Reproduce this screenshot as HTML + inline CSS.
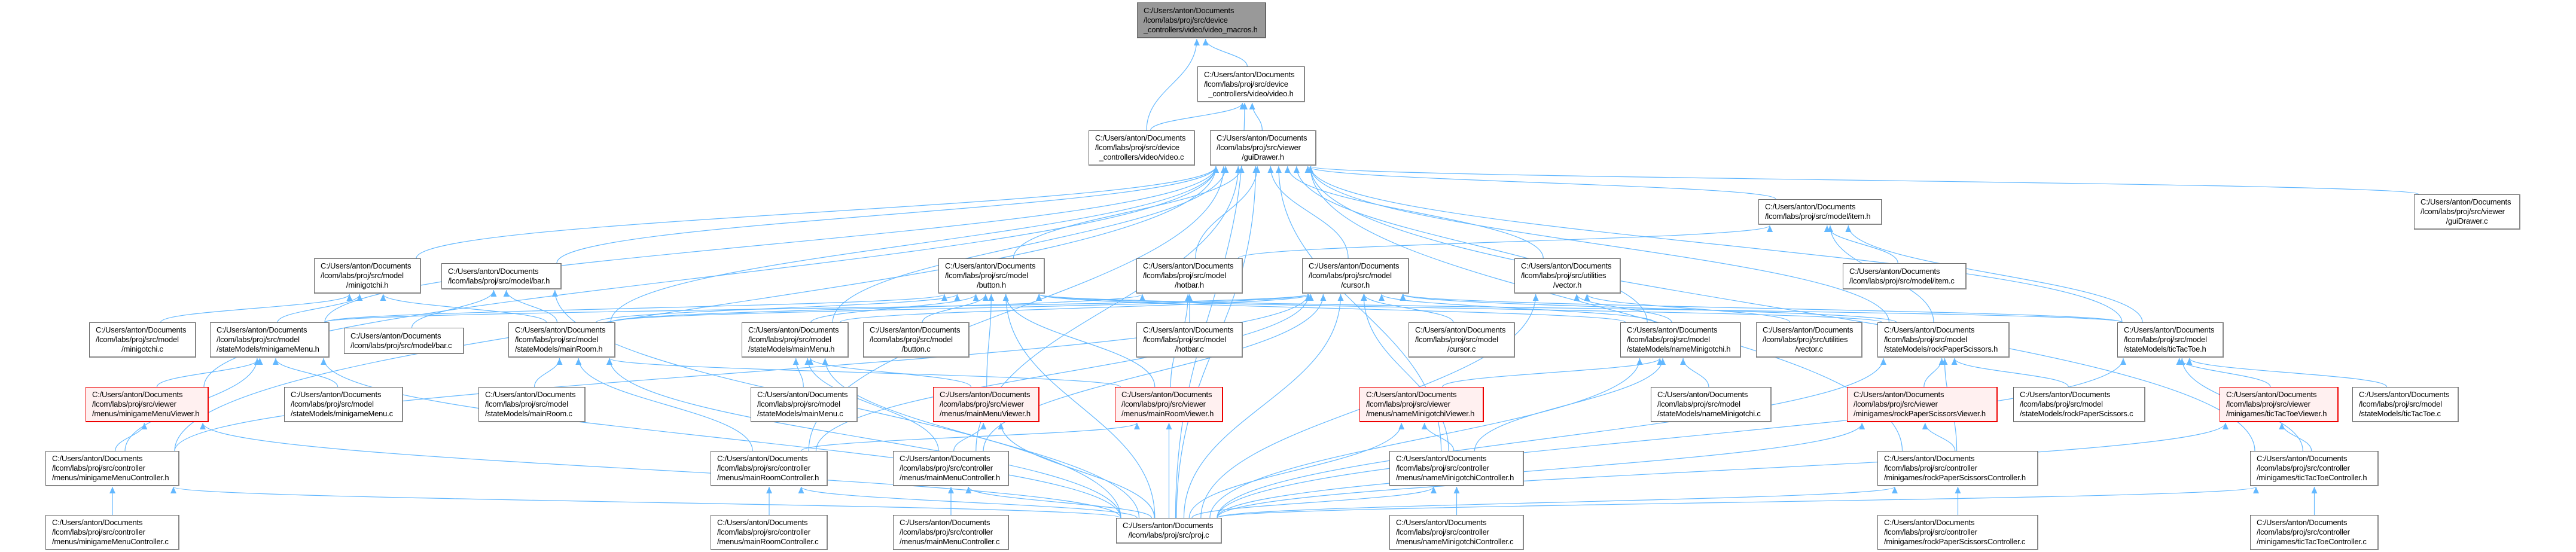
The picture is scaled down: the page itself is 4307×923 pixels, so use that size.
<!DOCTYPE html>
<html><head><meta charset="utf-8"><style>
html,body{margin:0;padding:0;background:#fff;}
#wrap{position:relative;width:4307px;height:923px;overflow:hidden;background:#fff;}
svg{position:absolute;left:0;top:0;}
.n{position:absolute;box-sizing:border-box;border:1px solid #666;border-bottom:2px solid #888;border-right:2px solid #888;background:#fff;font-family:"Liberation Sans",Arial,sans-serif;font-size:13px;line-height:16px;color:#000;text-align:left;padding-left:10px;display:flex;flex-direction:column;justify-content:center;white-space:nowrap;letter-spacing:-0.2px;}
.n span{display:block;}
.n span.c{text-align:center;margin-left:-10px;}
.g{background:#999;border-color:#666;}
.r{background:#fff0f0;border:1px solid #e00;border-bottom:2px solid #e00;border-right:2px solid #e00;}
</style></head><body><div id="wrap">
<svg id="edges" width="4307" height="923" xmlns="http://www.w3.org/2000/svg">
<defs><marker id="ah" markerUnits="userSpaceOnUse" markerWidth="12" markerHeight="10" refX="11" refY="5" orient="auto"><path d="M0,0 L11,5 L0,10 z" fill="#63b8ff"/></marker></defs>
<g id="eg" fill="none" stroke="#63b8ff" stroke-width="1.2"></g>
</svg>
<div class="n g" style="left:1901px;top:4px;width:216px;height:60px"><span>C:/Users/anton/Documents</span><span>/lcom/labs/proj/src/device</span><span>_controllers/video/video_macros.h</span></div>
<div class="n" style="left:2002px;top:111px;width:180px;height:60px"><span>C:/Users/anton/Documents</span><span>/lcom/labs/proj/src/device</span><span class="c">_controllers/video/video.h</span></div>
<div class="n" style="left:1820px;top:218px;width:178px;height:59px"><span>C:/Users/anton/Documents</span><span>/lcom/labs/proj/src/device</span><span class="c">_controllers/video/video.c</span></div>
<div class="n" style="left:2023px;top:218px;width:178px;height:59px"><span>C:/Users/anton/Documents</span><span>/lcom/labs/proj/src/viewer</span><span class="c">/guiDrawer.h</span></div>
<div class="n" style="left:2940px;top:333px;width:207px;height:43px"><span>C:/Users/anton/Documents</span><span>/lcom/labs/proj/src/model/item.h</span></div>
<div class="n" style="left:4036px;top:325px;width:178px;height:59px"><span>C:/Users/anton/Documents</span><span>/lcom/labs/proj/src/viewer</span><span class="c">/guiDrawer.c</span></div>
<div class="n" style="left:525px;top:432px;width:179px;height:59px"><span>C:/Users/anton/Documents</span><span>/lcom/labs/proj/src/model</span><span class="c">/minigotchi.h</span></div>
<div class="n" style="left:738px;top:440px;width:201px;height:44px"><span>C:/Users/anton/Documents</span><span>/lcom/labs/proj/src/model/bar.h</span></div>
<div class="n" style="left:1569px;top:432px;width:178px;height:59px"><span>C:/Users/anton/Documents</span><span>/lcom/labs/proj/src/model</span><span class="c">/button.h</span></div>
<div class="n" style="left:1900px;top:432px;width:178px;height:59px"><span>C:/Users/anton/Documents</span><span>/lcom/labs/proj/src/model</span><span class="c">/hotbar.h</span></div>
<div class="n" style="left:2177px;top:432px;width:179px;height:59px"><span>C:/Users/anton/Documents</span><span>/lcom/labs/proj/src/model</span><span class="c">/cursor.h</span></div>
<div class="n" style="left:2532px;top:432px;width:178px;height:59px"><span>C:/Users/anton/Documents</span><span>/lcom/labs/proj/src/utilities</span><span class="c">/vector.h</span></div>
<div class="n" style="left:3081px;top:440px;width:207px;height:44px"><span>C:/Users/anton/Documents</span><span>/lcom/labs/proj/src/model/item.c</span></div>
<div class="n" style="left:149px;top:539px;width:179px;height:59px"><span>C:/Users/anton/Documents</span><span>/lcom/labs/proj/src/model</span><span class="c">/minigotchi.c</span></div>
<div class="n" style="left:351px;top:539px;width:200px;height:59px"><span>C:/Users/anton/Documents</span><span>/lcom/labs/proj/src/model</span><span>/stateModels/minigameMenu.h</span></div>
<div class="n" style="left:575px;top:548px;width:201px;height:44px"><span>C:/Users/anton/Documents</span><span>/lcom/labs/proj/src/model/bar.c</span></div>
<div class="n" style="left:850px;top:539px;width:179px;height:59px"><span>C:/Users/anton/Documents</span><span>/lcom/labs/proj/src/model</span><span>/stateModels/mainRoom.h</span></div>
<div class="n" style="left:1240px;top:539px;width:179px;height:59px"><span>C:/Users/anton/Documents</span><span>/lcom/labs/proj/src/model</span><span>/stateModels/mainMenu.h</span></div>
<div class="n" style="left:1443px;top:539px;width:178px;height:59px"><span>C:/Users/anton/Documents</span><span>/lcom/labs/proj/src/model</span><span class="c">/button.c</span></div>
<div class="n" style="left:1900px;top:539px;width:178px;height:59px"><span>C:/Users/anton/Documents</span><span>/lcom/labs/proj/src/model</span><span class="c">/hotbar.c</span></div>
<div class="n" style="left:2355px;top:539px;width:178px;height:59px"><span>C:/Users/anton/Documents</span><span>/lcom/labs/proj/src/model</span><span class="c">/cursor.c</span></div>
<div class="n" style="left:2709px;top:539px;width:202px;height:59px"><span>C:/Users/anton/Documents</span><span>/lcom/labs/proj/src/model</span><span>/stateModels/nameMinigotchi.h</span></div>
<div class="n" style="left:2936px;top:539px;width:178px;height:59px"><span>C:/Users/anton/Documents</span><span>/lcom/labs/proj/src/utilities</span><span class="c">/vector.c</span></div>
<div class="n" style="left:3139px;top:539px;width:221px;height:59px"><span>C:/Users/anton/Documents</span><span>/lcom/labs/proj/src/model</span><span>/stateModels/rockPaperScissors.h</span></div>
<div class="n" style="left:3540px;top:539px;width:178px;height:59px"><span>C:/Users/anton/Documents</span><span>/lcom/labs/proj/src/model</span><span>/stateModels/ticTacToe.h</span></div>
<div class="n r" style="left:143px;top:647px;width:206px;height:59px"><span>C:/Users/anton/Documents</span><span>/lcom/labs/proj/src/viewer</span><span>/menus/minigameMenuViewer.h</span></div>
<div class="n" style="left:475px;top:647px;width:199px;height:59px"><span>C:/Users/anton/Documents</span><span>/lcom/labs/proj/src/model</span><span>/stateModels/minigameMenu.c</span></div>
<div class="n" style="left:800px;top:647px;width:179px;height:59px"><span>C:/Users/anton/Documents</span><span>/lcom/labs/proj/src/model</span><span>/stateModels/mainRoom.c</span></div>
<div class="n" style="left:1255px;top:647px;width:179px;height:59px"><span>C:/Users/anton/Documents</span><span>/lcom/labs/proj/src/model</span><span>/stateModels/mainMenu.c</span></div>
<div class="n r" style="left:1560px;top:647px;width:178px;height:59px"><span>C:/Users/anton/Documents</span><span>/lcom/labs/proj/src/viewer</span><span>/menus/mainMenuViewer.h</span></div>
<div class="n r" style="left:1864px;top:647px;width:181px;height:59px"><span>C:/Users/anton/Documents</span><span>/lcom/labs/proj/src/viewer</span><span>/menus/mainRoomViewer.h</span></div>
<div class="n r" style="left:2273px;top:647px;width:208px;height:59px"><span>C:/Users/anton/Documents</span><span>/lcom/labs/proj/src/viewer</span><span>/menus/nameMinigotchiViewer.h</span></div>
<div class="n" style="left:2760px;top:647px;width:202px;height:59px"><span>C:/Users/anton/Documents</span><span>/lcom/labs/proj/src/model</span><span>/stateModels/nameMinigotchi.c</span></div>
<div class="n r" style="left:3088px;top:647px;width:252px;height:59px"><span>C:/Users/anton/Documents</span><span>/lcom/labs/proj/src/viewer</span><span>/minigames/rockPaperScissorsViewer.h</span></div>
<div class="n" style="left:3366px;top:647px;width:221px;height:59px"><span>C:/Users/anton/Documents</span><span>/lcom/labs/proj/src/model</span><span>/stateModels/rockPaperScissors.c</span></div>
<div class="n r" style="left:3711px;top:647px;width:199px;height:59px"><span>C:/Users/anton/Documents</span><span>/lcom/labs/proj/src/viewer</span><span>/minigames/ticTacToeViewer.h</span></div>
<div class="n" style="left:3933px;top:647px;width:178px;height:59px"><span>C:/Users/anton/Documents</span><span>/lcom/labs/proj/src/model</span><span>/stateModels/ticTacToe.c</span></div>
<div class="n" style="left:76px;top:754px;width:224px;height:59px"><span>C:/Users/anton/Documents</span><span>/lcom/labs/proj/src/controller</span><span>/menus/minigameMenuController.h</span></div>
<div class="n" style="left:1188px;top:754px;width:196px;height:59px"><span>C:/Users/anton/Documents</span><span>/lcom/labs/proj/src/controller</span><span>/menus/mainRoomController.h</span></div>
<div class="n" style="left:1493px;top:754px;width:194px;height:59px"><span>C:/Users/anton/Documents</span><span>/lcom/labs/proj/src/controller</span><span>/menus/mainMenuController.h</span></div>
<div class="n" style="left:2323px;top:754px;width:225px;height:59px"><span>C:/Users/anton/Documents</span><span>/lcom/labs/proj/src/controller</span><span>/menus/nameMinigotchiController.h</span></div>
<div class="n" style="left:3139px;top:754px;width:269px;height:59px"><span>C:/Users/anton/Documents</span><span>/lcom/labs/proj/src/controller</span><span>/minigames/rockPaperScissorsController.h</span></div>
<div class="n" style="left:3762px;top:754px;width:215px;height:59px"><span>C:/Users/anton/Documents</span><span>/lcom/labs/proj/src/controller</span><span>/minigames/ticTacToeController.h</span></div>
<div class="n" style="left:76px;top:861px;width:224px;height:59px"><span>C:/Users/anton/Documents</span><span>/lcom/labs/proj/src/controller</span><span>/menus/minigameMenuController.c</span></div>
<div class="n" style="left:1188px;top:861px;width:196px;height:59px"><span>C:/Users/anton/Documents</span><span>/lcom/labs/proj/src/controller</span><span>/menus/mainRoomController.c</span></div>
<div class="n" style="left:1493px;top:861px;width:194px;height:59px"><span>C:/Users/anton/Documents</span><span>/lcom/labs/proj/src/controller</span><span>/menus/mainMenuController.c</span></div>
<div class="n" style="left:2323px;top:861px;width:225px;height:59px"><span>C:/Users/anton/Documents</span><span>/lcom/labs/proj/src/controller</span><span>/menus/nameMinigotchiController.c</span></div>
<div class="n" style="left:3139px;top:861px;width:269px;height:59px"><span>C:/Users/anton/Documents</span><span>/lcom/labs/proj/src/controller</span><span>/minigames/rockPaperScissorsController.c</span></div>
<div class="n" style="left:3762px;top:861px;width:215px;height:59px"><span>C:/Users/anton/Documents</span><span>/lcom/labs/proj/src/controller</span><span>/minigames/ticTacToeController.c</span></div>
<div class="n" style="left:1866px;top:866px;width:177px;height:43px"><span>C:/Users/anton/Documents</span><span class="c">/lcom/labs/proj/src/proj.c</span></div>
</div>
<script>
var N={
macros:[1901,4,216,60],videoh:[2002,111,180,60],videoc:[1820,218,178,59],guih:[2023,218,178,59],
itemh:[2940,333,207,43],guic:[4036,325,178,59],minih:[525,432,179,59],barh:[738,440,201,44],
buttonh:[1569,432,178,59],hotbarh:[1900,432,178,59],cursorh:[2177,432,179,59],vectorh:[2532,432,178,59],
itemc:[3081,440,207,44],minic:[149,539,179,59],mmenuh:[351,539,200,59],barc:[575,548,201,44],
mroomh:[850,539,179,59],mainmenuh:[1240,539,179,59],buttonc:[1443,539,178,59],hotbarc:[1900,539,178,59],
cursorc:[2355,539,178,59],namemh:[2709,539,202,59],vectorc:[2936,539,178,59],rpsh:[3139,539,221,59],
ttth:[3540,539,178,59],mmview:[143,647,206,59],mmenuc:[475,647,199,59],mroomc:[800,647,179,59],
mainmenuc:[1255,647,179,59],mmv2:[1560,647,178,59],mrview:[1864,647,181,59],nmview:[2273,647,208,59],
namemc:[2760,647,202,59],rpsview:[3088,647,252,59],rpsc:[3366,647,221,59],tttview:[3711,647,199,59],
tttc:[3933,647,178,59],mmctrlh:[76,754,224,59],mrctrlh:[1188,754,196,59],mmnctrlh:[1493,754,194,59],
nmctrlh:[2323,754,225,59],rpsctrlh:[3139,754,269,59],tttctrlh:[3762,754,215,59],
mmctrlc:[76,861,224,59],mrctrlc:[1188,861,196,59],mmnctrlc:[1493,861,194,59],nmctrlc:[2323,861,225,59],
rpsctrlc:[3139,861,269,59],tttctrlc:[3762,861,215,59],projc:[1866,866,177,43]};
var E=[
['videoh','macros'],['videoc','macros'],['videoc','videoh'],['guih','videoh'],['projc','videoh'],
['minih','guih'],['barh','guih'],['buttonh','guih'],['hotbarh','guih'],['cursorh','guih'],['vectorh','guih'],
['itemh','guih'],['guic','guih'],['mmenuh','guih'],['mroomh','guih'],['mainmenuh','guih'],['namemh','guih'],
['rpsh','guih'],['ttth','guih'],['mmctrlh','guih'],['mrctrlh','guih'],['mmnctrlh','guih'],['nmctrlh','guih'],
['rpsctrlh','guih'],['tttctrlh','guih'],['projc','guih'],['mmview','guih'],
['minic','minih'],['mmenuh','minih'],['mroomh','minih'],
['barc','barh'],['mroomh','barh'],['projc','barh'],
['mmview','mmenuh'],['mmenuc','mmenuh'],['mmctrlh','mmenuh'],['projc','mmenuh'],
['mroomc','mroomh'],['mrview','mroomh'],['mrctrlh','mroomh'],['projc','mroomh'],
['buttonc','buttonh'],['mainmenuh','buttonh'],['mmenuh','buttonh'],['mroomh','buttonh'],['namemh','buttonh'],
['rpsh','buttonh'],['ttth','buttonh'],['mmv2','buttonh'],['mrview','buttonh'],['projc','buttonh'],
['hotbarc','hotbarh'],['mroomh','hotbarh'],['mrview','hotbarh'],
['cursorc','cursorh'],['mainmenuh','cursorh'],['mmenuh','cursorh'],['mroomh','cursorh'],['namemh','cursorh'],
['rpsh','cursorh'],['ttth','cursorh'],['mmctrlh','cursorh'],['mrctrlh','cursorh'],['mmnctrlh','cursorh'],
['nmctrlh','cursorh'],['projc','cursorh'],
['vectorc','vectorh'],['namemh','vectorh'],['projc','vectorh'],
['itemc','itemh'],['hotbarh','itemh'],['rpsh','itemh'],['ttth','itemh'],
['mainmenuc','mainmenuh'],['mmv2','mainmenuh'],['mmnctrlh','mainmenuh'],['projc','mainmenuh'],
['namemc','namemh'],['nmview','namemh'],['nmctrlh','namemh'],['projc','namemh'],
['rpsc','rpsh'],['rpsview','rpsh'],['rpsctrlh','rpsh'],['projc','rpsh'],
['tttc','ttth'],['tttview','ttth'],['tttctrlh','ttth'],['projc','ttth'],
['mmctrlh','mmview'],['projc','mmview'],['mrctrlh','mrview'],['projc','mrview'],['mmnctrlh','mmv2'],['projc','mmv2'],
['nmctrlh','nmview'],['projc','nmview'],['rpsctrlh','rpsview'],['projc','rpsview'],['tttctrlh','tttview'],['projc','tttview'],
['mmctrlc','mmctrlh'],['mrctrlc','mrctrlh'],['mmnctrlc','mmnctrlh'],['nmctrlc','nmctrlh'],['rpsctrlc','rpsctrlh'],['tttctrlc','tttctrlh'],
['projc','mmctrlh'],['projc','mrctrlh'],['projc','mmnctrlh'],['projc','nmctrlh'],['projc','rpsctrlh'],['projc','tttctrlh']
];
var g=document.getElementById('eg'),s='';
function cl(v,a,b){return Math.max(a,Math.min(b,v));}
E.forEach(function(e){
var a=N[e[0]],b=N[e[1]];
var acx=a[0]+a[2]/2,bcx=b[0]+b[2]/2;
var sx,sy,tx,ty,d;
if(a[1]>b[1]+b[3]-2){
 sx=acx+cl((bcx-acx)*0.08,-a[2]/2+8,a[2]/2-8); sy=a[1];
 tx=bcx+cl((acx-bcx)*0.08,-b[2]/2+10,b[2]/2-10); ty=b[1]+b[3]+1;
 var dy=sy-ty;
 d='M'+sx+','+sy+' C'+sx+','+(sy-dy*0.45)+' '+tx+','+(ty+dy*0.45)+' '+tx+','+ty;
}else{
 if(acx<bcx){sx=a[0]+a[2];tx=b[0]-1;}else{sx=a[0];tx=b[0]+b[2]+1;}
 sy=a[1]+a[3]/2;ty=b[1]+b[3]/2;
 d='M'+sx+','+sy+' C'+((sx+tx)/2)+','+sy+' '+((sx+tx)/2)+','+ty+' '+tx+','+ty;
}
s+='<path d="'+d+'" marker-end="url(#ah)"/>';
});
g.innerHTML=s;
</script>
</body></html>
